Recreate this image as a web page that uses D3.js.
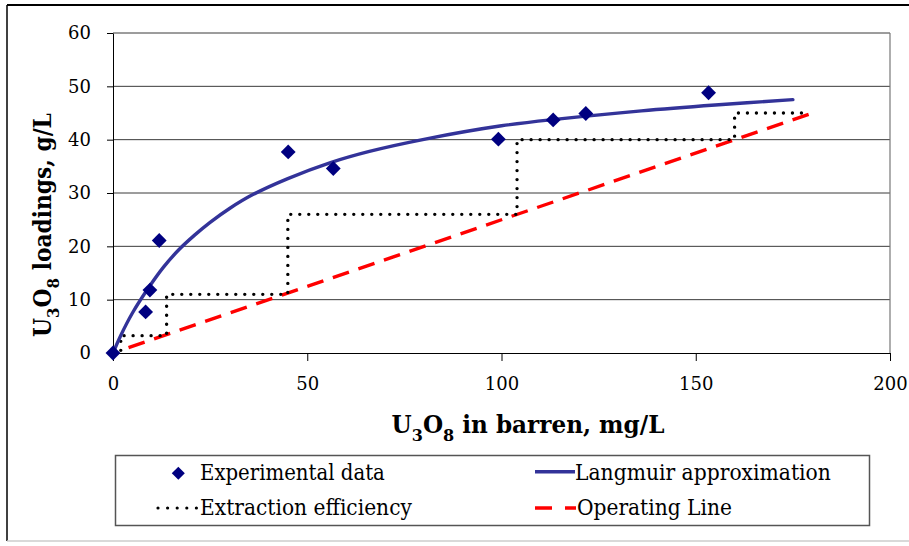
<!DOCTYPE html>
<html><head><meta charset="utf-8">
<script src="https://cdn.jsdelivr.net/npm/d3@7"></script>
<style>body{margin:0;background:#fff}svg{display:block}</style>
</head><body><svg id="c" width="909" height="546" font-family="DejaVu Serif"></svg>
<script>
const FONT = "DejaVu Serif";
// Experimental data
const expX = [0, 8.4, 9.5, 11.9, 45.1, 56.7, 99.2, 113.3, 121.7, 153.3];
const expY = [0, 7.7, 11.8, 21.1, 37.7, 34.6, 40.1, 43.7, 44.9, 48.8];
// Langmuir approximation
const langX = [0, 2, 5, 9.5, 13, 17, 21, 25, 30, 36, 45, 56, 66, 81, 100, 115, 136, 155, 175];
const langY = [0, 3.3, 7.5, 12.6, 16.1, 19.4, 22.1, 24.5, 27.1, 29.7, 32.7, 35.7, 37.8, 40.2, 42.6, 43.9, 45.4, 46.5, 47.5];
// Extraction efficiency (staircase)
const stepX = [2, 2, 13.8, 13.8, 45, 45, 104, 104, 160, 160, 178.5];
const stepY = [0.5, 3.25, 3.25, 11, 11, 26, 26, 40, 40, 45, 45];
// Operating line
const opX = [4, 180.5];
const opY = [1, 45.1];
const xTicks = [0, 50, 100, 150, 200];
const yTicks = [0, 10, 20, 30, 40, 50, 60];

const svg = d3.select("#c");
// outer frame
svg.append("line").attr("x1",7).attr("x2",909).attr("y1",5).attr("y2",5).attr("stroke","#000").attr("stroke-width",2);
svg.append("line").attr("x1",7).attr("x2",7).attr("y1",5).attr("y2",541).attr("stroke","#000").attr("stroke-width",1.5);
svg.append("line").attr("x1",7).attr("x2",909).attr("y1",541).attr("y2",541).attr("stroke","#ccc").attr("stroke-width",1.5);

const L=113,R=890,T=33,B=353;
const x = d3.scaleLinear().domain([0,200]).range([L,R]);
const y = d3.scaleLinear().domain([0,60]).range([B,T]);

// gridlines
svg.append("g").selectAll("line").data(yTicks.filter(d=>d>0)).join("line")
  .attr("x1",L).attr("x2",R).attr("y1",d=>y(d)).attr("y2",d=>y(d))
  .attr("stroke","#3a3a3a").attr("stroke-width",1);
svg.append("line").attr("x1",R).attr("x2",R).attr("y1",T).attr("y2",B).attr("stroke","#777").attr("stroke-width",1.2);

// axes
const ya = svg.append("g").attr("transform",`translate(${L},0)`)
  .call(d3.axisLeft(y).tickValues(yTicks).tickSize(6).tickPadding(16).tickSizeOuter(0));
const xa = svg.append("g").attr("transform",`translate(0,${B})`)
  .call(d3.axisBottom(x).tickValues(xTicks).tickSize(8).tickPadding(16).tickSizeOuter(0));
[ya,xa].forEach(a=>{
  a.attr("font-family",FONT).attr("font-size",18);
  a.selectAll("text").attr("fill","#000");
  a.selectAll("line,path").attr("stroke","#000");
});

// operating line
svg.append("path").datum(opX.map((d,i)=>[d,opY[i]]))
  .attr("d",d3.line().x(d=>x(d[0])).y(d=>y(d[1])))
  .attr("fill","none").attr("stroke","#ff0000").attr("stroke-width",3.4).attr("stroke-dasharray","17,10");
// staircase
svg.append("path").datum(stepX.map((d,i)=>[d,stepY[i]]))
  .attr("d",d3.line().x(d=>x(d[0])).y(d=>y(d[1])))
  .attr("fill","none").attr("stroke","#000").attr("stroke-width",3.4).attr("stroke-linecap","round").attr("stroke-dasharray","0,9");
// Langmuir
svg.append("path").datum(langX.map((d,i)=>[d,langY[i]]))
  .attr("d",d3.line().curve(d3.curveCatmullRom.alpha(0.5)).x(d=>x(d[0])).y(d=>y(d[1])))
  .attr("fill","none").attr("stroke","#333399").attr("stroke-width",3.4).attr("stroke-linecap","round");
// data points
svg.append("g").selectAll("path").data(expX.map((d,i)=>[d,expY[i]])).join("path")
  .attr("d",d3.symbol().type(d3.symbolSquare).size(110)).attr("transform",d=>`translate(${x(d[0])},${y(d[1])}) rotate(45)`)
  .attr("fill","#000080");

// fit text horizontally to a target width, anchored at local x=ax
function fit(t, w, ax){
  const cur = t.node().getComputedTextLength();
  const s = w/cur;
  t.attr("transform",`translate(${ax},0) scale(${s},1) translate(${-ax},0)`);
}

// axis titles
function title(g, parts){
  const t = g.append("text").attr("font-weight","bold").attr("font-family",FONT).attr("font-size",24.5)
    .attr("fill","#000").attr("text-anchor","middle");
  parts.forEach(p=>{
    const ts = t.append("tspan").text(p[0]);
    if(p[1]){ ts.attr("font-size",17).attr("dy",8); }
    else if(p[2]) { ts.attr("dy",-8); }
  });
  return t;
}
const xt = title(svg.append("g").attr("transform","translate(528,433)"),
  [["U"],["3",1],["O",0,1],["8",1],[" in barren, mg/L",0,1]]);
fit(xt, 273, 0);
const yt = title(svg.append("g").attr("transform","translate(51,225) rotate(-90)"),
  [["U"],["3",1],["O",0,1],["8",1],[" loadings, g/L",0,1]]);
fit(yt, 224, 0);

// legend
const lg = svg.append("g");
lg.append("rect").attr("x",115.5).attr("y",455.5).attr("width",754).attr("height",70)
  .attr("fill","#fff").attr("stroke","#555").attr("stroke-width",1.5);
lg.append("path").attr("d",d3.symbol().type(d3.symbolSquare).size(85)).attr("transform","translate(178.3,473.3) rotate(45)").attr("fill","#000080");
lg.append("line").attr("x1",158).attr("x2",197).attr("y1",508).attr("y2",508)
  .attr("stroke","#000").attr("stroke-width",3.2).attr("stroke-linecap","round").attr("stroke-dasharray","0,9.6");
lg.append("line").attr("x1",535).attr("x2",575).attr("y1",471.7).attr("y2",471.7)
  .attr("stroke","#333399").attr("stroke-width",3.4);
lg.append("line").attr("x1",535).attr("x2",576).attr("y1",508).attr("y2",508)
  .attr("stroke","#ff0000").attr("stroke-width",3.4).attr("stroke-dasharray","17,13");
const legTexts = [["Experimental data",200,480,185],["Extraction efficiency",200,515,212],["Langmuir approximation",575,480,256],["Operating Line",577,515,155]];
legTexts.forEach(d=>{
  const t = lg.append("text").attr("x",d[1]).attr("y",d[2]).attr("font-family",FONT).attr("font-size",22).attr("fill","#000").text(d[0]);
  fit(t, d[3], d[1]);
});
</script></body></html>
